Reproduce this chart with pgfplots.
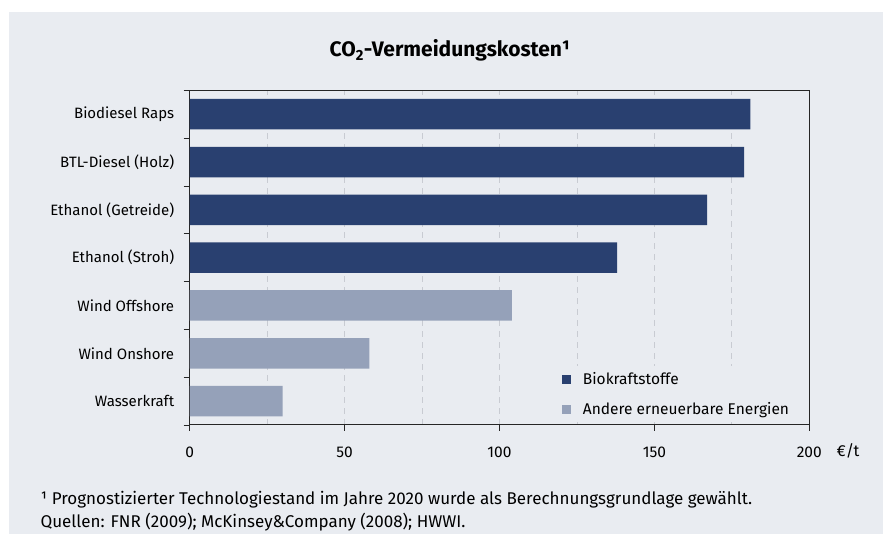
\documentclass[border=0pt]{standalone}
\usepackage{fontspec}
\setmainfont{Fira Sans}
\usepackage{pgfplots}
\pgfplotsset{compat=1.18}
\definecolor{bg}{RGB}{233,236,241}
\definecolor{dark}{RGB}{41,64,112}
\definecolor{light}{RGB}{149,161,185}
\definecolor{gridc}{RGB}{200,203,210}
\begin{document}
\begin{tikzpicture}[x=1pt,y=1pt]
\useasboundingbox (0,0) rectangle (883,534);
\fill[white] (0,0) rectangle (883,534);
\fill[bg] (9,0) rectangle (883,522);
\node[anchor=base, font=\fontsize{21}{24}\selectfont\bfseries] at (450,477) {CO\textsubscript{2}-Vermeidungskosten¹};
\begin{axis}[
  at={(189.7pt,109pt)}, anchor=south west,
  scale only axis, width=619.6pt, height=334.7pt,
  xbar, bar width=30.5pt, bar shift=0pt,
  xmin=0, xmax=200, ymin=-0.5, ymax=6.5,
  xtick={0,50,...,200}, minor x tick num=1,
  ytick={-0.5,0.5,...,6.5},
  y tick label as interval,
  yticklabels={Wasserkraft,Wind Onshore,Wind Offshore,Ethanol (Stroh),Ethanol (Getreide),BTL-Diesel (Holz),Biodiesel Raps},
  xtick pos=lower, ytick pos=left,
  tick align=outside, major tick length=6pt, minor tick length=0pt,
  tick style={black!85, line width=0.8pt},
  axis line style={black!85, line width=1pt},
  xmajorgrids, xminorgrids,
  grid style={gridc, line width=0.8pt, dash pattern=on 6pt off 5pt},
  /pgf/number format/assume math mode=true,
  xticklabel style={font=\fontsize{15.5}{18}\selectfont, yshift=-12pt},
  yticklabel style={font=\fontsize{15}{18}\selectfont, xshift=-6pt},
  legend style={draw=none, fill=bg, at={(rel axis cs:0.594,0.176)}, anchor=north west,
    font=\fontsize{15.5}{18}\selectfont, row sep=13pt, column sep=10pt, inner sep=4pt},
  legend cell align=left,
  legend image code/.code={\fill[#1] (0pt,-4.5pt) rectangle (9pt,4.5pt);},
]
\addplot[fill=dark, draw=none] coordinates {(138,3) (167,4) (179,5) (181,6)};
\addlegendentry{Biokraftstoffe}
\addplot[fill=light, draw=none] coordinates {(30,0) (58,1) (104,2)};
\addlegendentry{Andere erneuerbare Energien}
\draw[black!85, line width=1pt] (rel axis cs:0,0) -- (rel axis cs:0,1);
\end{axis}
\node[font=\fontsize{16}{18}\selectfont] at (848,83) {€/t};
\node[anchor=base west, font=\fontsize{17}{20}\selectfont] at (37,29) {¹ Prognostizierter Technologiestand im Jahre 2020 wurde als Berechnungsgrundlage gewählt.};
\node[anchor=base west, font=\fontsize{17}{20}\selectfont] at (37,6) {Quellen: FNR (2009); McKinsey\&Company (2008); HWWI.};
\end{tikzpicture}
\end{document}
